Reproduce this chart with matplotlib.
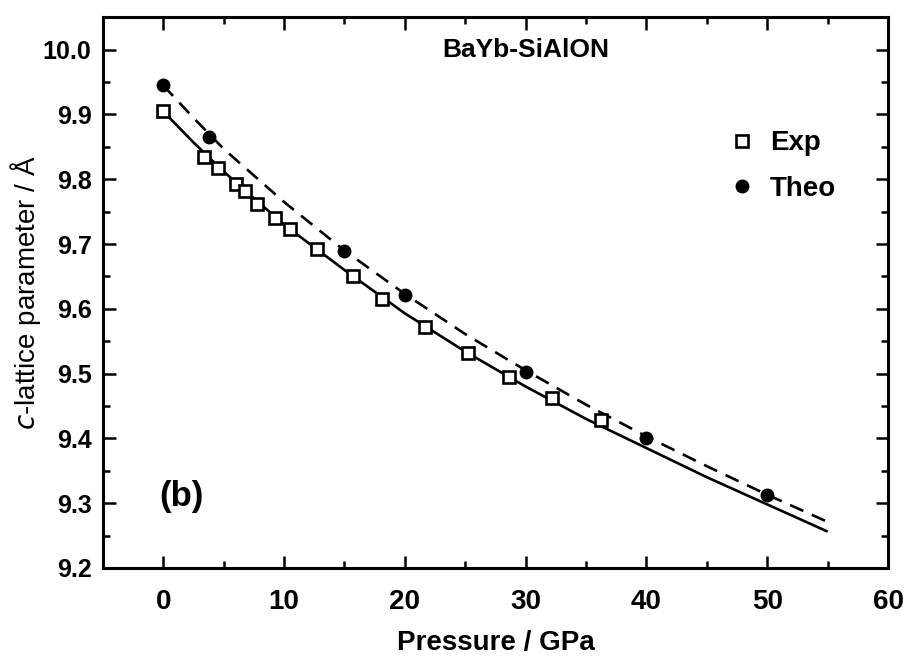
import matplotlib
matplotlib.use("Agg")
import matplotlib.pyplot as plt
from matplotlib.ticker import MultipleLocator

plt.rcParams["font.family"] = ["Liberation Sans", "DejaVu Sans"]

# Experimental points (open squares)
exp_p = [0, 3.4, 4.5, 6.0, 6.75, 7.8, 9.25, 10.5, 12.7, 15.75, 18.1, 21.7,
         25.2, 28.6, 32.2, 36.2]
exp_c = [9.905, 9.835, 9.818, 9.792, 9.782, 9.762, 9.740, 9.723, 9.692,
         9.651, 9.615, 9.572, 9.531, 9.494, 9.462, 9.429]

# Theoretical points (filled circles)
theo_p = [0, 3.8, 15, 20, 30, 40, 50]
theo_c = [9.945, 9.865, 9.689, 9.621, 9.503, 9.400, 9.313]

# Fitted curves
fit_p = [0, 2.5, 5, 10, 15, 20, 25, 30, 35, 40, 45, 50, 55]
fit_exp = [9.905, 9.857, 9.812, 9.730, 9.660, 9.593, 9.534, 9.480, 9.430,
           9.385, 9.340, 9.298, 9.256]
fit_theo = [9.945, 9.895, 9.847, 9.765, 9.690, 9.623, 9.561, 9.505, 9.452,
            9.403, 9.357, 9.313, 9.271]

fig = plt.figure(figsize=(9.09, 6.65), dpi=100)
ax = fig.add_axes([0.113, 0.146, 0.864, 0.828])

ax.plot(fit_p, fit_exp, color="black", lw=1.9, solid_capstyle="butt")
ax.plot(fit_p, fit_theo, color="black", lw=1.9, dashes=(5.5, 3.5))

ax.plot(exp_p, exp_c, ls="none", marker="s", ms=8, mfc="white",
        mec="black", mew=1.9, label="Exp")
ax.plot(theo_p, theo_c, ls="none", marker="o", ms=9, mfc="black",
        mec="black", label="Theo")

ax.set_xlim(-5, 60)
ax.set_ylim(9.2, 10.05)
ax.xaxis.set_major_locator(MultipleLocator(10))
ax.xaxis.set_minor_locator(MultipleLocator(5))
ax.yaxis.set_major_locator(MultipleLocator(0.1))
ax.yaxis.set_minor_locator(MultipleLocator(0.05))
ax.yaxis.set_major_formatter(plt.FormatStrFormatter("%.1f"))

ax.tick_params(which="both", direction="in", top=True, right=True, width=1.8)
ax.tick_params(which="major", length=9)
ax.tick_params(which="minor", length=5)
ax.tick_params(axis="x", labelsize=20, pad=15)
ax.tick_params(axis="y", labelsize=18, pad=8)
for lab in ax.get_xticklabels() + ax.get_yticklabels():
    lab.set_fontweight("bold")
for sp in ax.spines.values():
    sp.set_linewidth(2.2)

ax.set_xlabel("Pressure / GPa", fontsize=20, fontweight="bold", labelpad=11)
ax.set_ylabel("$c$-lattice parameter / Å", fontsize=20, labelpad=0)

ax.text(30, 10.0, "BaYb-SiAlON", ha="center", va="center", fontsize=19,
        fontweight="bold")
ax.text(1.5, 9.31, "(b)", ha="center", va="center", fontsize=25,
        fontweight="bold")

ax.legend(loc="center left", bbox_to_anchor=(0.765, 0.73), frameon=False,
          handlelength=1.0, handletextpad=0.5, labelspacing=0.7,
          prop={"size": 20, "weight": "bold"})

fig.savefig("out.png", dpi=100)
